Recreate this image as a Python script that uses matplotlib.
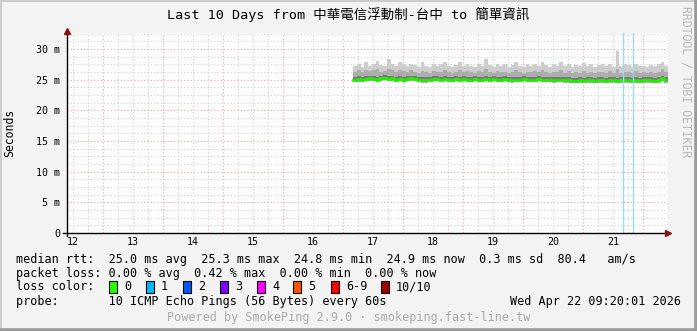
import numpy as np
import matplotlib
matplotlib.use("Agg")
import matplotlib.pyplot as plt
from matplotlib.patches import Rectangle
from matplotlib.lines import Line2D

# ---------------- data ----------------
title = "Last 10 Days from 中華電信浮動制-台中 to 簡單資訊"
day_labels = ["12", "13", "14", "15", "16", "17", "18", "19", "20", "21"]
day_positions = [12, 13, 14, 15, 16, 17, 18, 19, 20, 21]
y_ticks = [0, 5, 10, 15, 20, 25, 30]
y_tick_labels = ["0", "5 m", "10 m", "15 m", "20 m", "25 m", "30 m"]

t_start = 16.67          # day where data begins
t_step = 1.0 / 16.0      # 1.5 h per sample

median_ms = [
    25.0, 25.1, 25.0, 25.1, 25.2, 25.1, 25.0, 25.2, 25.3, 25.1, 25.2, 25.0, 25.1, 25.0, 25.1, 25.2,
    25.1, 25.0, 24.9, 24.9, 25.0, 25.1, 25.1, 25.0, 25.1, 25.0, 25.0, 25.1, 25.0, 25.1, 25.0, 25.0,
    25.1, 25.0, 25.0, 25.1, 25.0, 25.1, 25.0, 25.0, 25.1, 25.0, 24.9, 25.0, 25.0, 25.1, 25.0, 25.0,
    25.0, 25.1, 25.0, 25.0, 25.0, 24.9, 25.0, 25.0, 24.9, 24.9, 24.8, 24.8, 24.9, 24.8, 24.9, 24.9,
    24.8, 24.9, 24.9, 24.8, 24.9, 24.9, 24.8, 24.9, 24.9, 24.9, 24.8, 24.9, 24.8, 24.9, 24.9, 24.9,
    24.8, 24.9, 25.2, 24.9]

max_ms = [
    27.2, 27.5, 27.0, 27.8, 27.3, 27.6, 28.0, 27.4, 27.2, 28.4, 27.6, 27.3, 27.9, 27.5, 27.2, 27.6,
    27.4, 27.1, 27.8, 27.3, 27.0, 27.6, 27.2, 27.5, 27.9, 27.3, 27.0, 27.4, 27.8, 27.2, 27.5, 27.3,
    27.1, 27.6, 27.3, 28.3, 27.4, 27.0, 27.6, 27.2, 27.5, 27.1, 27.4, 27.8, 27.2, 27.0, 27.5, 27.3,
    27.6, 27.2, 27.9, 27.4, 27.1, 27.5, 27.3, 27.8, 27.2, 27.6, 27.0, 27.4, 27.3, 27.7, 27.2, 27.5,
    27.1, 27.4, 27.5, 27.3, 27.6, 27.0, 29.6, 27.2, 27.5, 27.4, 27.1, 27.6, 27.2, 27.3, 27.0, 27.4,
    27.2, 27.5, 27.9, 27.3]

upper_ms = [
    26.3, 26.5, 26.2, 26.6, 26.4, 26.5, 26.7, 26.3, 26.4, 26.8, 26.5, 26.3, 26.6, 26.4, 26.2, 26.5,
    26.3, 26.1, 26.4, 26.2, 26.1, 26.4, 26.2, 26.3, 26.5, 26.2, 26.1, 26.3, 26.5, 26.2, 26.4, 26.2,
    26.1, 26.4, 26.2, 26.7, 26.3, 26.1, 26.4, 26.2, 26.3, 26.1, 26.2, 26.5, 26.2, 26.1, 26.3, 26.2,
    26.4, 26.2, 26.5, 26.3, 26.1, 26.3, 26.2, 26.5, 26.1, 26.4, 26.0, 26.2, 26.1, 26.4, 26.1, 26.3,
    26.0, 26.2, 26.3, 26.1, 26.4, 26.0, 26.8, 26.1, 26.3, 26.2, 26.0, 26.4, 26.1, 26.2, 26.0, 26.2,
    26.1, 26.3, 26.7, 26.2]

min_ms = [
    24.7, 24.6, 24.6, 24.7, 24.8, 24.7, 24.6, 24.8, 24.9, 24.7, 24.8, 24.6, 24.7, 24.6, 24.7, 24.8,
    24.7, 24.6, 24.5, 24.5, 24.6, 24.7, 24.7, 24.6, 24.7, 24.6, 24.6, 24.7, 24.6, 24.7, 24.6, 24.6,
    24.7, 24.6, 24.6, 24.7, 24.6, 24.7, 24.6, 24.6, 24.7, 24.6, 24.5, 24.6, 24.6, 24.7, 24.6, 24.6,
    24.6, 24.7, 24.6, 24.6, 24.6, 24.5, 24.6, 24.6, 24.5, 24.5, 24.4, 24.4, 24.5, 24.4, 24.5, 24.5,
    24.4, 24.5, 24.5, 24.4, 24.5, 24.5, 24.4, 24.5, 24.5, 24.5, 24.4, 24.5, 24.4, 24.5, 24.5, 24.5,
    24.4, 24.5, 24.8, 24.5]

loss_days = [21.16, 21.33]

loss_names = ["0", "1", "2", "3", "4", "5", "6-9", "10/10"]
loss_colors = ["#26ff00", "#00b8ff", "#0059ff", "#7e00ff", "#ff00ff", "#ff5500", "#ff0000", "#a10000"]

line_rtt = "median rtt:  25.0 ms avg  25.3 ms max  24.8 ms min  24.9 ms now  0.3 ms sd  80.4   am/s"
line_loss = "packet loss: 0.00 % avg  0.42 % max  0.00 % min  0.00 % now"
line_probe = "probe:       10 ICMP Echo Pings (56 Bytes) every 60s"
date_str = "Wed Apr 22 09:20:01 2026"
footer = "Powered by SmokePing 2.9.0 · smokeping.fast-line.tw"

# ---------------- figure ----------------
W, H = 697, 331
fig = plt.figure(figsize=(W / 100, H / 100), dpi=100, facecolor="#f3f3f3")
MONO = ["DejaVu Sans Mono", "Noto Sans CJK TC"]

def fx(px):
    return px / W

def fy(py):
    return 1 - py / H

x0, x1 = 67, 667
y_top, y_bot = 33, 233
ax = fig.add_axes([fx(x0), fy(y_bot), (x1 - x0) / W, (y_bot - y_top) / H])
ax.set_facecolor("white")
xmin, xmax = 11.9, 21.9
ymin, ymax = 0, 32.6
ax.set_xlim(xmin, xmax)
ax.set_ylim(ymin, ymax)
for s in ax.spines.values():
    s.set_visible(False)

# grid
dots = (0, (1, 2))
for k in range(int((xmax - xmin) / 0.25) + 2):
    xv = 11.5 + k * 0.25
    if xv <= xmin or xv >= xmax:
        continue
    is_major = abs((xv - 0.5) - round(xv - 0.5)) < 1e-6
    ax.axvline(xv, color="#f0a0a0" if is_major else "#cfcfcf", lw=0.8, ls=dots, zorder=1)
for k in range(1, 27):
    yv = k * 1.25
    is_major = abs(yv / 5 - round(yv / 5)) < 1e-6
    ax.axhline(yv, color="#f0a0a0" if is_major else "#cfcfcf", lw=0.8, ls=dots, zorder=1)

# smoke
n = len(median_ms)
t = t_start + t_step * np.arange(n + 1)
def ext(a):
    a = np.asarray(a, dtype=float)
    return np.append(a, a[-1])
med = ext(median_ms)
ax.fill_between(t, ext(min_ms), ext(max_ms), step="post", color="#cdcdcd", lw=0, zorder=2)
ax.fill_between(t, ext(min_ms), ext(upper_ms), step="post", color="#acacac", lw=0, zorder=3)
ax.fill_between(t, med - 0.2, med + 0.45, step="post", color="#7a7a7a", lw=0, zorder=4)
ax.step(t, med, where="post", color="#22ee00", lw=2.0, zorder=5)

# loss markers
for d in loss_days:
    ax.axvline(d, color="#9adcf8", lw=1.0, zorder=6)

# ticks
ax.set_xticks(day_positions)
ax.set_xticklabels(day_labels, fontfamily=MONO, fontsize=7.2)
ax.set_yticks(y_ticks)
ax.set_yticklabels(y_tick_labels, fontfamily=MONO, fontsize=7.2)
ax.tick_params(axis="both", length=0, colors="black")
ax.tick_params(axis="x", pad=3)
ax.tick_params(axis="y", pad=5)

# axes lines and arrows
px_x = (xmax - xmin) / (x1 - x0)
px_y = (ymax - ymin) / (y_bot - y_top)
ax.plot([xmin - 4 * px_x, xmax - 1 * px_x], [0, 0], color="black", lw=1.0, clip_on=False, zorder=7)
ax.plot([xmin, xmin], [-3 * px_y, ymax + 1 * px_y], color="black", lw=1.0, clip_on=False, zorder=7)
ax.plot([xmax + 1 * px_x], [0], marker=">", color="#8b1010", ms=5, clip_on=False, zorder=8)
ax.plot([xmin], [ymax + 2.5 * px_y], marker="^", color="#8b1010", ms=5, clip_on=False, zorder=8)

# texts
fig.text(0.5, fy(15), title, ha="center", va="center", fontsize=9.7, family=MONO, color="black")
fig.text(fx(10), fy(133), "Seconds", rotation=90, ha="center", va="center", fontsize=8.3, family=MONO)
fig.text(fx(686), fy(6), "RRDTOOL / TOBI OETIKER", rotation=270, ha="center", va="top",
         fontsize=8.3, family=MONO, color="#b8b8b8")

lx = fx(16)
fig.text(lx, fy(259), line_rtt, ha="left", va="center", fontsize=8.5, family=MONO)
fig.text(lx, fy(273), line_loss, ha="left", va="center", fontsize=8.5, family=MONO)
fig.text(lx, fy(287), "loss color:", ha="left", va="center", fontsize=8.5, family=MONO)
fig.text(lx, fy(301), line_probe, ha="left", va="center", fontsize=8.5, family=MONO)
fig.text(fx(681), fy(301), date_str, ha="right", va="center", fontsize=8.5, family=MONO)
fig.text(0.5, fy(318), footer, ha="center", va="center", fontsize=8.5, family=MONO, color="#aaaaaa")

box_x = [109, 146, 183, 220, 257, 293, 331, 381]
for bx, name, col in zip(box_x, loss_names, loss_colors):
    fig.add_artist(Rectangle((fx(bx), fy(293)), 8 / W, 12 / H, transform=fig.transFigure,
                             facecolor=col, edgecolor="black", lw=0.8))
    fig.text(fx(bx + 15), fy(287), name, ha="left", va="center", fontsize=8.5, family=MONO)

# frame
fig.add_artist(Line2D([0, 0], [0, 1], transform=fig.transFigure, color="#cccccc", lw=3))
fig.add_artist(Line2D([0, 1], [1, 1], transform=fig.transFigure, color="#cccccc", lw=3))
fig.add_artist(Line2D([1, 1], [0, 1], transform=fig.transFigure, color="#9a9a9a", lw=4))
fig.add_artist(Line2D([0, 1], [0, 0], transform=fig.transFigure, color="#9a9a9a", lw=4))

fig.savefig("out.png", dpi=100, facecolor=fig.get_facecolor())
